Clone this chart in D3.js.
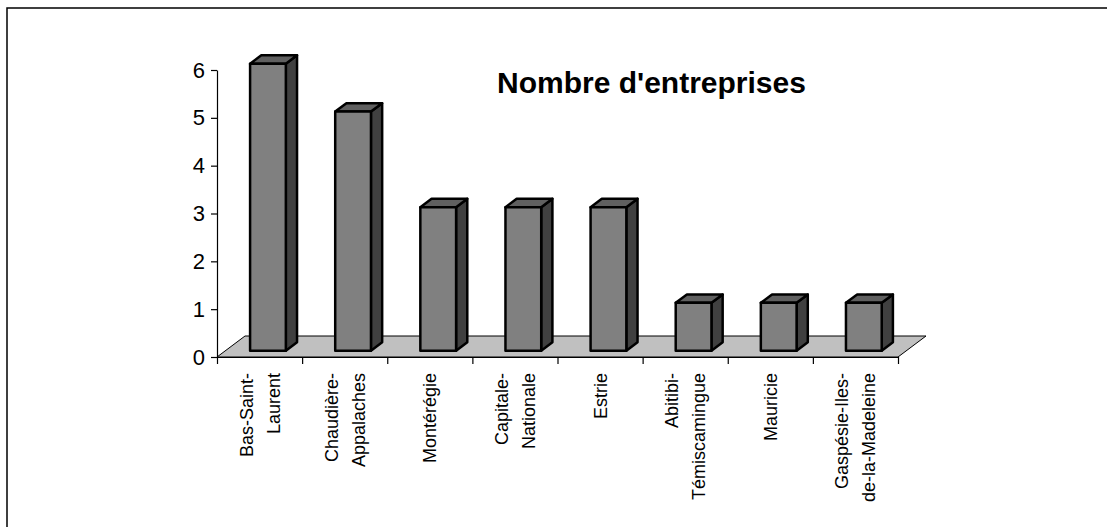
<!DOCTYPE html>
<html>
<head>
<meta charset="utf-8">
<script src="https://cdn.jsdelivr.net/npm/d3@7"></script>
<style>
  body { margin: 0; background: #fff; }
  svg { display: block; font-family: Arial, "Liberation Sans", sans-serif; }
  .axis path, .axis line { stroke: #000; stroke-width: 1.2px; }
  .axis text { fill: #000; }
</style>
</head>
<body>
<script>
// data
var regions = [
  ["Bas-Saint-", "Laurent"],
  ["Chaudière-", "Appalaches"],
  ["Montérégie"],
  ["Capitale-", "Nationale"],
  ["Estrie"],
  ["Abitibi-", "Témiscamingue"],
  ["Mauricie"],
  ["Gaspésie-Iles-", "de-la-Madeleine"]
];
var counts = [6, 5, 3, 3, 3, 1, 1, 1];
var yTicks = [0, 1, 2, 3, 4, 5, 6];
var title = "Nombre d'entreprises";

var W = 1107, H = 527
  , plotLeft = 217, plotRight = 898, plotBottom = 357, plotTop = 70
  , depth = [28, -21]            // floor depth vector
  , barFront = 0.3, barBack = 0.7 // bar position inside floor depth
  , barWidth = 0.42;

var svg = d3.select('body').append('svg').attr('width', W).attr('height', H);

// outer frame
svg.append('rect').attr('x', 7).attr('y', 8).attr('width', W + 20).attr('height', H + 20)
  .attr('fill', 'none').attr('stroke', '#000').attr('stroke-width', 1.5);

var keys = regions.map(function(d, i) { return i; })
  , x = d3.scaleBand().domain(keys).range([plotLeft, plotRight])
  , xb = d3.scaleLinear().domain([0, regions.length]).range([plotLeft, plotRight])
  , y = d3.scaleLinear().domain([0, 6]).range([plotBottom, plotTop]);

// floor
var floor = [[plotLeft, plotBottom], [plotRight, plotBottom],
  [plotRight + depth[0], plotBottom + depth[1]], [plotLeft + depth[0], plotBottom + depth[1]]];
svg.append('polygon').attr('points', floor.map(function(p) { return p.join(','); }).join(' '))
  .attr('fill', '#c0c0c0').attr('stroke', '#000').attr('stroke-width', 1);

// bars
var bw = x.bandwidth() * barWidth
  , fx = depth[0] * barFront, fy = depth[1] * barFront
  , dx = depth[0] * (barBack - barFront), dy = depth[1] * (barBack - barFront);

var bars = svg.append('g').selectAll('g').data(counts).enter().append('g')
  .attr('stroke', '#000').attr('stroke-width', 2.5).attr('stroke-linejoin', 'round');

bars.each(function(v, i) {
  var g = d3.select(this)
    , x0 = x(i) + (x.bandwidth() - bw) / 2 + fx
    , x1 = x0 + bw
    , y0 = y(0) + fy
    , y1 = y(v) + fy;
  // side
  g.append('polygon').attr('fill', '#404040')
    .attr('points', [[x1, y0], [x1 + dx, y0 + dy], [x1 + dx, y1 + dy], [x1, y1]].join(' '));
  // top
  g.append('polygon').attr('fill', '#606060')
    .attr('points', [[x0, y1], [x1, y1], [x1 + dx, y1 + dy], [x0 + dx, y1 + dy]].join(' '));
  // front
  g.append('rect').attr('fill', '#808080')
    .attr('x', x0).attr('y', y1).attr('width', bw).attr('height', y0 - y1);
});

// y axis
svg.append('g').attr('class', 'axis').attr('transform', 'translate(' + plotLeft + ',0)')
  .call(d3.axisLeft(y).tickValues(yTicks).tickFormat(d3.format('d')).tickSize(6).tickSizeOuter(0).tickPadding(6))
  .selectAll('text').style('font-size', '22px');

// x axis (ticks on category boundaries)
svg.append('g').attr('class', 'axis').attr('transform', 'translate(0,' + plotBottom + ')')
  .call(d3.axisBottom(xb).tickValues(d3.range(regions.length + 1)).tickSize(7).tickSizeOuter(0).tickFormat(''));

// category labels
var lineGap = 27;
var labels = svg.append('g').selectAll('text').data(regions).enter().append('text')
  .attr('transform', function(d, i) { return 'translate(' + (x(i) + x.bandwidth() / 2) + ',373) rotate(-90)'; })
  .attr('text-anchor', 'end').style('font-size', '18px');
labels.selectAll('tspan').data(function(d) { return d.map(function(t, j) { return { t: t, j: j, n: d.length }; }); })
  .enter().append('tspan')
  .attr('x', 0)
  .attr('y', function(d) { return (d.j - (d.n - 1) / 2) * lineGap + 6.5; })
  .text(function(d) { return d.t; });

// title
svg.append('text').attr('x', 497).attr('y', 93).style('font-size', '30px').style('font-weight', 'bold')
  .text(title);
</script>
</body>
</html>
